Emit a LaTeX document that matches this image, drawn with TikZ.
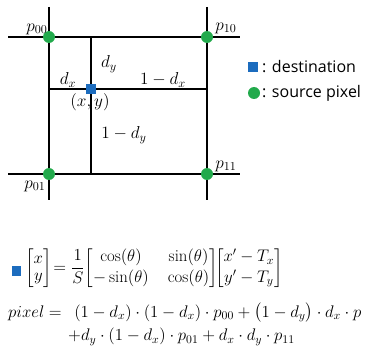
\RequirePackage{fix-cm}
\documentclass[tikz,border=0pt]{standalone}
\usepackage{amsmath}
\usepackage{fontspec}
\newfontfamily\legendfont{Open Sans}
\definecolor{dotgreen}{RGB}{34,170,76}
\definecolor{sqblue}{RGB}{28,108,190}
\begin{document}
\begin{tikzpicture}[x=1pt,y=-1pt,font=\fontsize{15}{18}\selectfont,
  gridline/.style={line width=2.2pt,black},
  innerline/.style={line width=1.2pt,black},
  srcdot/.style={circle,fill=dotgreen,minimum size=12pt,inner sep=0pt},
  dstsq/.style={rectangle,fill=sqblue,minimum size=9.5pt,inner sep=0pt},
  lbl/.style={inner sep=0pt,scale=1.15},
  legtxt/.style={inner sep=0pt,anchor=west,font=\legendfont\fontsize{16}{18}\selectfont},
  eqtxt/.style={inner sep=0pt,anchor=west,scale=1.12}]
\path[use as bounding box] (0,0) rectangle (369,350);
\clip (0,0) rectangle (369,350);
% grid lines
\draw[gridline] (8,37) -- (240,37);
\draw[gridline] (8,174) -- (240,174);
\draw[gridline] (49,7) -- (49,200);
\draw[gridline] (207,7) -- (207,200);
% inner lines
\coordinate (it) at (91,37);
\coordinate (ib) at (91,174);
\coordinate (il) at (49,89);
\coordinate (ir) at (207,89);
\draw[innerline] (it) -- (ib);
\draw[innerline] (il) -- (ir);
% dots
\node[srcdot] (p00) at (49,37) {};
\node[srcdot] (p10) at (207,37) {};
\node[srcdot] (p01) at (49,174) {};
\node[srcdot] (p11) at (207,174) {};
\node[dstsq] (dst) at (91,89) {};
% labels
\node[lbl] (lp00) at (37,29) {$p_{00}$};
\node[lbl] (lp10) at (226,28) {$p_{10}$};
\node[lbl] (lp01) at (35,186) {$p_{01}$};
\node[lbl] (lp11) at (226,166) {$p_{11}$};
\node[lbl] (ldy) at (109,64) {$d_y$};
\node[lbl] (ldx) at (68,80) {$d_x$};
\node[lbl] (l1dx) at (163,80) {$1-d_x$};
\node[lbl] (lxy) at (90,102) {$(x,y)$};
\node[lbl] (l1dy) at (124,135) {$1-d_y$};
% legend
\node[dstsq] (legsq) at (253,67) {};
\node[legtxt] (legsqt) at (262,67) {: destination};
\node[srcdot] (legdot) at (254,93) {};
\node[legtxt] (legdott) at (262,93) {: source pixel};
% formulas
\node[dstsq] (fsq) at (16.5,271) {};
\node[eqtxt] (feq) at (25,268) {\setlength{\arraycolsep}{8.5pt}$\displaystyle \left[\begin{array}{@{}c@{}}x\\[-3pt] y\end{array}\right]\!=\frac{1}{S}\!\begin{bmatrix}\cos(\theta) & \sin(\theta)\\ -\sin(\theta) & \cos(\theta)\end{bmatrix}\!\!\begin{bmatrix}x'-T_x\\ y'-T_y\end{bmatrix}$};
\node[eqtxt] (fpix) at (8,313) {$pixel=\ \,(1-d_x)\cdot(1-d_x)\cdot p_{00}+\bigl(1-d_y\bigr)\cdot d_x\cdot p$\vphantom{$p_{10}$}};
\node[eqtxt] (fpix2) at (68,337) {$+d_y\cdot(1-d_x)\cdot p_{01}+d_x\cdot d_y\cdot p_{11}$};
\end{tikzpicture}
\end{document}
